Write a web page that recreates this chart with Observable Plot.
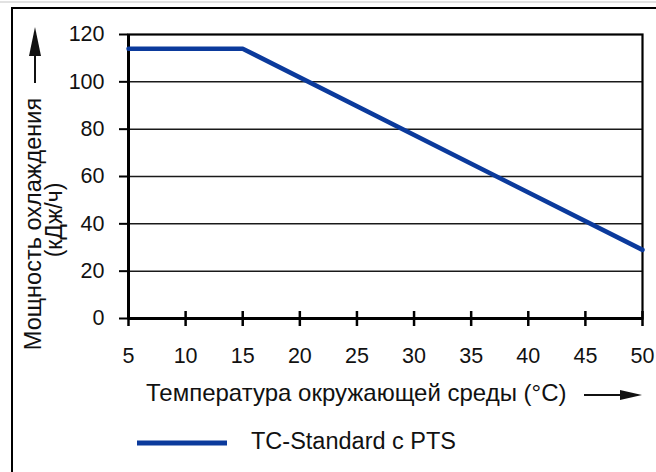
<!DOCTYPE html>
<html><head><meta charset="utf-8">
<script src="https://cdn.jsdelivr.net/npm/d3@7"></script>
<script src="https://cdn.jsdelivr.net/npm/@observablehq/plot@0.6"></script>
<style>
body{margin:0;background:#fff;}
#wrap{position:relative;width:656px;height:472px;overflow:hidden;background:#fff;}
</style>
</head><body><div id="wrap"></div>
<script>
// Data
const temperature = [5, 15, 50];
const capacity = [114, 114, 29];
const xTicks = [5, 10, 15, 20, 25, 30, 35, 40, 45, 50];
const yTicks = [0, 20, 40, 60, 80, 100, 120];
const gridValues = [20, 40, 60, 80, 100];
const seriesName = "TC-Standard с PTS";
const xLabel = "Температура окружающей среды (°C)";
const yLabel1 = "Мощность охлаждения";
const yLabel2 = "(кДж/ч)";
const lineColor = "#0b3a9c";
const FONT = "'Liberation Sans', Arial, Helvetica, sans-serif";

const data = temperature.map((t, i) => ({t, c: capacity[i]}));

const chart = Plot.plot({
  width: 656, height: 472,
  marginTop: 34, marginRight: 14, marginBottom: 154, marginLeft: 128,
  style: {fontFamily: FONT, background: "transparent", color: "#111"},
  x: {domain: [5, 50]},
  y: {domain: [0, 120]},
  marks: [
    Plot.gridY(gridValues, {stroke: "#1a1a1a", strokeOpacity: 1, strokeWidth: 1.5}),
    Plot.frame({stroke: "#000", strokeWidth: 2.2}),
    Plot.axisY(yTicks, {tickSize: 9, tickPadding: 15, fontSize: 21.5, stroke: "#000", strokeWidth: 2, fill: "#111", label: null}),
    Plot.axisX(xTicks, {tickSize: 0, tickPadding: 29, fontSize: 21.5, fill: "#111", label: null}),
    Plot.ruleX(xTicks, {x: d => d, y1: 0, y2: 0, insetTop: -7, insetBottom: -8, stroke: "#000", strokeWidth: 2.5}),
    Plot.ruleY([0], {stroke: "#000", strokeWidth: 3}),
    Plot.ruleX([5], {stroke: "#000", strokeWidth: 3}),
    Plot.line(data, {x: "t", y: "c", stroke: lineColor, strokeWidth: 4.5})
  ]
});

document.getElementById("wrap").appendChild(chart);

// Decorations (labels, arrows, legend, page frame)
(function () {
  const svg = d3.select(chart);
  const sx = chart.scale("x"), sy = chart.scale("y");
  const pL = sx.apply(5), pR = sx.apply(50), pB = sy.apply(0), pT = sy.apply(120);

  const deco = svg.append("g").attr("font-family", FONT).attr("fill", "#111").attr("text-anchor", "start");

  // page frame
  deco.append("line").attr("x1", 0).attr("x2", 656).attr("y1", 2).attr("y2", 2).attr("stroke", "#d8d8d8").attr("stroke-width", 1.5);
  deco.append("path").attr("d", `M12,472V8H656`).attr("fill", "none").attr("stroke", "#000").attr("stroke-width", 2);

  // x label + arrow
  const xly = pB + 77;
  deco.append("text").attr("x", pL + 18).attr("y", xly).attr("dominant-baseline", "middle")
    .attr("text-anchor", "start").attr("font-size", 24).text(xLabel);
  deco.append("line").attr("x1", pR - 58).attr("x2", pR - 18).attr("y1", xly).attr("y2", xly)
    .attr("stroke", "#111").attr("stroke-width", 2);
  deco.append("path").attr("d", `M${pR - 22},${xly - 5}L${pR},${xly}L${pR - 22},${xly + 5}Z`).attr("fill", "#111");

  // y label + arrow
  const ymid = (pT + pB) / 2 + 48;
  deco.append("text").attr("transform", `translate(41,${ymid}) rotate(-90)`).attr("text-anchor", "middle")
    .attr("font-size", 23.5).text(yLabel1);
  deco.append("text").attr("transform", `translate(62,${ymid - 4}) rotate(-90)`).attr("text-anchor", "middle")
    .attr("font-size", 23).text(yLabel2);
  deco.append("line").attr("x1", 35).attr("x2", 35).attr("y1", pT + 49).attr("y2", pT + 18)
    .attr("stroke", "#111").attr("stroke-width", 2);
  deco.append("path").attr("d", `M29,${pT + 22}L35,${pT - 7}L41,${pT + 22}Z`).attr("fill", "#111");

  // legend
  const ly = pB + 125;
  deco.append("line").attr("x1", 137).attr("x2", 227).attr("y1", ly).attr("y2", ly)
    .attr("stroke", lineColor).attr("stroke-width", 5);
  deco.append("text").attr("x", 251).attr("y", ly).attr("dominant-baseline", "middle")
    .attr("text-anchor", "start").attr("font-size", 23.5).text(seriesName);
})();
</script>
</body></html>
